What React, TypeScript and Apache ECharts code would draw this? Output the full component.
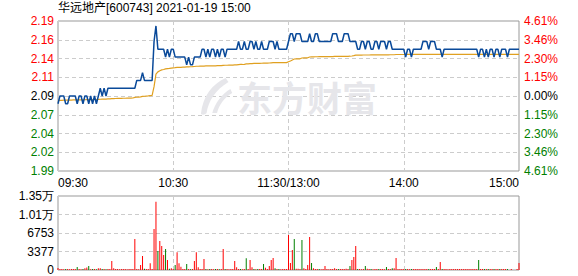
import React, { useEffect, useRef } from 'react';
import * as echarts from 'echarts';

const title = '华远地产[600743] 2021-01-19 15:00';
const preClose = 2.09;
const maxPct = 4.61;
const timeLabels: Record<number, string> = { 0: '09:30', 60: '10:30', 120: '11:30/13:00', 180: '14:00', 240: '15:00' };
const priceTicks = ['1.99', '2.02', '2.04', '2.07', '2.09', '2.11', '2.14', '2.16', '2.19'];
const pctTicks = ['4.61%', '3.46%', '2.30%', '1.15%', '0.00%', '1.15%', '2.30%', '3.46%', '4.61%'];
const volTicks = ['0', '3377', '6753', '1.01万', '1.35万'];
const volumeMax = 13506;

// minute prices 09:30 .. 15:00 (241 points)
const prices = [
  2.08, 2.09, 2.09, 2.09, 2.08, 2.08, 2.09, 2.09, 2.09, 2.09,
  2.08, 2.09, 2.09, 2.08, 2.09, 2.09, 2.08, 2.09, 2.08, 2.09,
  2.08, 2.09, 2.10, 2.09, 2.10, 2.09, 2.10, 2.10, 2.10, 2.10,
  2.10, 2.10, 2.10, 2.10, 2.10, 2.10, 2.10, 2.10, 2.10, 2.10,
  2.10, 2.11, 2.11, 2.11, 2.12, 2.11, 2.11, 2.11, 2.11, 2.11,
  2.16, 2.18, 2.15, 2.15, 2.15, 2.15, 2.14, 2.15, 2.14, 2.15,
  2.15, 2.14, 2.14, 2.14, 2.14, 2.14, 2.14, 2.13, 2.14, 2.13,
  2.13, 2.14, 2.14, 2.14, 2.14, 2.15, 2.15, 2.14, 2.15, 2.14,
  2.15, 2.15, 2.14, 2.15, 2.14, 2.15, 2.15, 2.14, 2.15, 2.15,
  2.15, 2.15, 2.15, 2.15, 2.16, 2.15, 2.15, 2.16, 2.15, 2.15,
  2.16, 2.16, 2.15, 2.16, 2.15, 2.15, 2.16, 2.15, 2.15, 2.15,
  2.16, 2.16, 2.16, 2.15, 2.16, 2.15, 2.15, 2.15, 2.15, 2.15,
  2.16, 2.17, 2.17, 2.16, 2.17, 2.17, 2.17, 2.16, 2.16, 2.16,
  2.16, 2.17, 2.16, 2.16, 2.17, 2.17, 2.16, 2.16, 2.16, 2.16,
  2.16, 2.16, 2.16, 2.17, 2.17, 2.17, 2.16, 2.16, 2.16, 2.17,
  2.17, 2.17, 2.16, 2.16, 2.16, 2.16, 2.15, 2.15, 2.16, 2.16,
  2.15, 2.16, 2.16, 2.15, 2.15, 2.16, 2.16, 2.15, 2.16, 2.16,
  2.16, 2.15, 2.16, 2.16, 2.15, 2.15, 2.15, 2.15, 2.15, 2.15,
  2.15, 2.14, 2.15, 2.15, 2.14, 2.15, 2.15, 2.15, 2.15, 2.15,
  2.16, 2.16, 2.16, 2.15, 2.16, 2.16, 2.16, 2.15, 2.15, 2.15,
  2.14, 2.15, 2.15, 2.15, 2.15, 2.15, 2.15, 2.15, 2.15, 2.15,
  2.15, 2.15, 2.15, 2.15, 2.15, 2.15, 2.15, 2.15, 2.15, 2.14,
  2.15, 2.15, 2.14, 2.15, 2.14, 2.15, 2.15, 2.14, 2.15, 2.15,
  2.14, 2.15, 2.15, 2.15, 2.14, 2.15, 2.15, 2.15, 2.15, 2.15,
  2.15,
];

// running average price
const avgPrices = [
  2.0840, 2.0843, 2.0845, 2.0846, 2.0846, 2.0847, 2.0848, 2.0848, 2.0849, 2.0849,
  2.0850, 2.0851, 2.0851, 2.0852, 2.0852, 2.0853, 2.0853, 2.0854, 2.0854, 2.0855,
  2.0855, 2.0856, 2.0858, 2.0859, 2.0860, 2.0861, 2.0862, 2.0863, 2.0866, 2.0867,
  2.0868, 2.0869, 2.0869, 2.0870, 2.0871, 2.0871, 2.0872, 2.0873, 2.0873, 2.0874,
  2.0882, 2.0884, 2.0886, 2.0888, 2.0895, 2.0897, 2.0899, 2.0901, 2.0906, 2.0908,
  2.1020, 2.1180, 2.1210, 2.1225, 2.1235, 2.1240, 2.1248, 2.1252, 2.1254, 2.1258,
  2.1262, 2.1264, 2.1267, 2.1268, 2.1269, 2.1270, 2.1271, 2.1274, 2.1275, 2.1276,
  2.1277, 2.1279, 2.1282, 2.1282, 2.1283, 2.1283, 2.1285, 2.1286, 2.1286, 2.1287,
  2.1287, 2.1288, 2.1288, 2.1289, 2.1289, 2.1290, 2.1294, 2.1295, 2.1295, 2.1296,
  2.1296, 2.1297, 2.1300, 2.1301, 2.1304, 2.1305, 2.1305, 2.1307, 2.1312, 2.1313,
  2.1316, 2.1317, 2.1318, 2.1319, 2.1320, 2.1320, 2.1321, 2.1322, 2.1323, 2.1323,
  2.1324, 2.1326, 2.1328, 2.1328, 2.1328, 2.1328, 2.1329, 2.1329, 2.1329, 2.1329,
  2.1340, 2.1350, 2.1362, 2.1375, 2.1376, 2.1377, 2.1378, 2.1388, 2.1389, 2.1390,
  2.1391, 2.1401, 2.1403, 2.1403, 2.1404, 2.1404, 2.1405, 2.1405, 2.1405, 2.1406,
  2.1406, 2.1406, 2.1407, 2.1407, 2.1408, 2.1408, 2.1408, 2.1409, 2.1409, 2.1410,
  2.1410, 2.1410, 2.1411, 2.1414, 2.1418, 2.1425, 2.1426, 2.1426, 2.1426, 2.1427,
  2.1427, 2.1427, 2.1427, 2.1428, 2.1428, 2.1428, 2.1428, 2.1428, 2.1429, 2.1429,
  2.1429, 2.1429, 2.1429, 2.1430, 2.1430, 2.1430, 2.1433, 2.1433, 2.1433, 2.1433,
  2.1433, 2.1433, 2.1434, 2.1434, 2.1434, 2.1434, 2.1434, 2.1434, 2.1434, 2.1434,
  2.1434, 2.1434, 2.1434, 2.1434, 2.1434, 2.1434, 2.1434, 2.1434, 2.1434, 2.1435,
  2.1435, 2.1435, 2.1435, 2.1435, 2.1435, 2.1435, 2.1435, 2.1435, 2.1435, 2.1435,
  2.1435, 2.1435, 2.1435, 2.1435, 2.1435, 2.1435, 2.1435, 2.1435, 2.1435, 2.1435,
  2.1435, 2.1435, 2.1435, 2.1435, 2.1435, 2.1435, 2.1435, 2.1435, 2.1435, 2.1435,
  2.1435, 2.1435, 2.1435, 2.1435, 2.1435, 2.1435, 2.1435, 2.1435, 2.1435, 2.1435,
  2.1436,
];

// minute volumes (lots)
const volumes = [
  365, 180, 180, 150, 180, 180, 150, 180, 180, 180,
  550, 180, 150, 180, 300, 450, 730, 150, 180, 180,
  150, 300, 300, 180, 180, 150, 180, 180, 1640, 300,
  180, 180, 150, 180, 180, 180, 150, 180, 180, 180,
  5654, 180, 150, 910, 2550, 250, 180, 180, 1216, 180,
  7478, 12464, 3466, 5290, 4378, 2736, 3830, 1824, 250, 300,
  180, 912, 3222, 1216, 600, 180, 180, 1094, 180, 150,
  180, 1640, 3222, 500, 180, 180, 2006, 180, 150, 180,
  180, 150, 180, 180, 150, 180, 3830, 180, 180, 150,
  180, 180, 1640, 500, 180, 180, 150, 180, 2128, 180,
  1824, 500, 180, 150, 180, 180, 180, 1094, 400, 180,
  730, 1824, 2189, 300, 180, 180, 150, 180, 180, 180,
  6384, 1277, 3648, 5654, 250, 250, 180, 5472, 300, 180,
  912, 6019, 1277, 300, 180, 180, 180, 150, 180, 730,
  180, 150, 180, 180, 300, 180, 180, 180, 180, 180,
  250, 180, 730, 1824, 2371, 4378, 180, 180, 150, 180,
  730, 250, 180, 180, 150, 180, 180, 180, 180, 180,
  150, 547, 180, 180, 300, 300, 2189, 180, 180, 180,
  180, 180, 180, 150, 180, 180, 180, 180, 180, 180,
  180, 180, 180, 180, 180, 180, 180, 547, 180, 1459,
  180, 180, 180, 150, 180, 180, 180, 180, 180, 180,
  180, 180, 180, 180, 180, 180, 180, 180, 180, 1824,
  180, 180, 180, 180, 180, 180, 180, 180, 180, 180,
  180, 180, 180, 180, 180, 0, 180, 0, 0, 180,
  1277,
];

const logoPath =
  'M28 0 C14 6 4 18 2 36 C4 37 6 37 8 35 C10 23 17 12 31 4 Z M33 11 C24 16 17 25 14 35 L19 35 C21 27 27 19 35 15 Z';

export default function App() {
  const ref = useRef<HTMLDivElement>(null);
  useEffect(() => {
    if (!ref.current) return;
    try {
      echarts.graphic.registerShape('logo', echarts.graphic.extendPath(logoPath, {}) as any);
    } catch (e) {}
    const chart = echarts.init(ref.current, null, { renderer: 'svg' });
    const unit = (preClose * maxPct) / 100 / 4;
    const toY = (p: number) => (p - preClose) / unit;
    const priceData = prices.map((p, i) => [i, toY(p)]);
    const avgData = avgPrices.map((p, i) => [i, toY(p)]);
    const volData = volumes.map((v, i) => [i, v]);
    const font = 'Liberation Sans, Arial, sans-serif';
    const red = '#ff0000';
    const green = '#008000';
    const tickColor = (idx: number) => (idx > 4 ? red : idx < 4 ? green : '#000000');
    const split = { show: true, lineStyle: { color: '#cccccc', type: [4, 3] as any, width: 1 } };
    const gridBase = { show: true, borderColor: '#999999', borderWidth: 1, backgroundColor: 'transparent' };

    chart.setOption({
      animation: false,
      backgroundColor: '#ffffff',
      textStyle: { fontFamily: font },
      grid: [
        { ...gridBase, left: 58, right: 59, top: 21, height: 150 },
        { ...gridBase, left: 58, right: 59, top: 196, height: 74 },
      ],
      xAxis: [
        {
          type: 'value', gridIndex: 0, min: 0, max: 240, interval: 60,
          axisLine: { show: false }, axisTick: { show: false },
          splitLine: split,
          axisLabel: {
            show: true, margin: 6, fontSize: 12, color: '#000', fontFamily: font,
            formatter: (v: number) => timeLabels[v] ?? '',
            alignMinLabel: 'left', alignMaxLabel: 'right',
          },
        },
        {
          type: 'value', gridIndex: 1, min: 0, max: 240, interval: 60,
          axisLine: { show: false }, axisTick: { show: false },
          splitLine: split, axisLabel: { show: false },
        },
      ],
      yAxis: [
        {
          type: 'value', gridIndex: 0, min: -4, max: 4, interval: 1, position: 'left',
          axisLine: { show: false }, axisTick: { show: false }, splitLine: split,
          axisLabel: {
            margin: 4, fontSize: 12, fontFamily: font,
            formatter: (v: number) => priceTicks[Math.round(v) + 4],
            color: (v: any) => tickColor(Math.round(Number(v)) + 4),
          },
        },
        {
          type: 'value', gridIndex: 0, min: -4, max: 4, interval: 1, position: 'right',
          axisLine: { show: false }, axisTick: { show: false }, splitLine: { show: false },
          axisLabel: {
            margin: 5, fontSize: 12, fontFamily: font,
            formatter: (v: number) => pctTicks[Math.round(v) + 4],
            color: (v: any) => tickColor(Math.round(Number(v)) + 4),
          },
        },
        {
          type: 'value', gridIndex: 1, min: 0, max: volumeMax, interval: volumeMax / 4,
          axisLine: { show: false }, axisTick: { show: false }, splitLine: split,
          axisLabel: {
            margin: 4, fontSize: 12, color: '#000', fontFamily: font,
            formatter: (v: number) => volTicks[Math.round(v / (volumeMax / 4))],
          },
        },
      ],
      graphic: [
        {
          type: 'text', left: 58, top: 2, z: 10,
          style: { text: title, fontSize: 12, fill: '#000', fontFamily: 'Liberation Sans, Noto Sans CJK SC, sans-serif' },
        },
        {
          type: 'logo', x: 199, y: 78, scaleX: 0.95, scaleY: 1.0, z: 1, silent: true,
          style: { fill: '#e6e6ea' },
        },
        {
          type: 'text', x: 237, y: 79, z: 1, silent: true,
          style: { text: '东方财富', fontSize: 35, fontWeight: 'bold', fill: '#e6e6ea', fontFamily: 'Noto Sans CJK SC' },
        },
      ],
      series: [
        {
          type: 'line', xAxisIndex: 0, yAxisIndex: 0, data: avgData, showSymbol: false, z: 4,
          lineStyle: { color: '#e0a020', width: 1.2 }, silent: true,
        },
        {
          type: 'line', xAxisIndex: 0, yAxisIndex: 0, data: priceData, showSymbol: false, z: 5,
          lineStyle: { color: '#0a4a9a', width: 1.5 }, silent: true,
        },
        {
          type: 'bar', xAxisIndex: 1, yAxisIndex: 2, data: volData, barWidth: 1, silent: true,
          itemStyle: {
            color: (p: any) => {
              const i = p.dataIndex;
              return i === 0 || prices[i] >= prices[i - 1] ? red : green;
            },
          },
        },
      ],
    });
    return () => chart.dispose();
  }, []);
  return <div ref={ref} style={{ position: 'fixed', left: 0, top: 0, width: 578, height: 276 }} />;
}
